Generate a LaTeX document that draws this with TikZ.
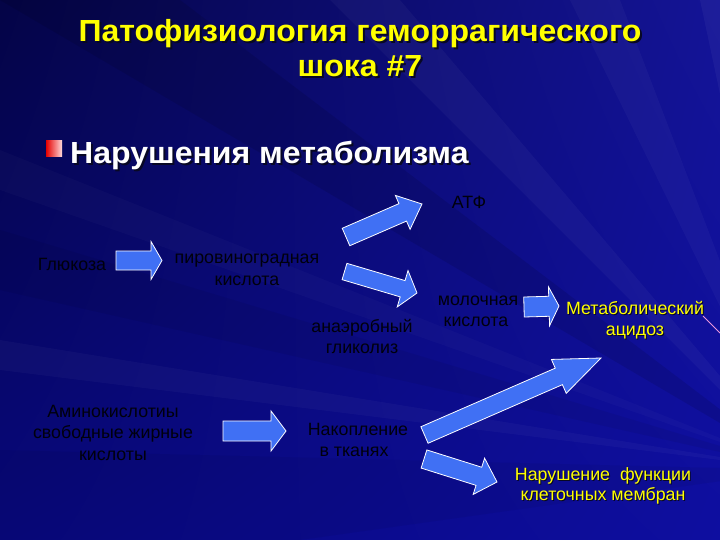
\documentclass[tikz,border=0pt]{standalone}
\usepackage{fontspec}
\setmainfont{Liberation Sans}
\newfontfamily\widefont[FakeStretch=1.05]{Liberation Sans}
\usetikzlibrary{calc,shadings}
\definecolor{bgUL}{RGB}{4,4,70}
\definecolor{bgUR}{RGB}{20,20,150}
\definecolor{bgLL}{RGB}{8,8,125}
\definecolor{bgLR}{RGB}{14,14,160}
\definecolor{arrowblue}{RGB}{64,112,244}
\definecolor{titleyellow}{RGB}{255,255,0}
\definecolor{labelink}{RGB}{0,0,12}
\definecolor{pinkline}{RGB}{235,150,220}
\definecolor{shadowc}{RGB}{8,8,36}
\newcommand\blockarrow[5]{%
  \coordinate (hb) at ($(#2)!#5!(#1)$);
  \draw[barrow] ($(#1)!#3!90:(#2)$) -- ($(hb)!#3!-90:(#1)$) -- ($(hb)!#4!-90:(#1)$)
    -- (#2) -- ($(hb)!#4!90:(#1)$) -- ($(hb)!#3!90:(#1)$) -- ($(#1)!#3!-90:(#2)$) -- cycle;}
\tikzset{
  barrow/.style={fill=arrowblue, draw=white, line width=0.8pt, line join=miter},
  titletext/.style={font=\widefont\bfseries\fontsize{30.5}{34}\selectfont, anchor=base, inner sep=0pt},
  subtext/.style={font=\widefont\bfseries\fontsize{30.5}{34}\selectfont, anchor=base west, inner sep=0pt},
  blacklabel/.style={font=\fontsize{17.8}{21}\selectfont, text=labelink, anchor=base, inner sep=0pt},
  yellowlabel/.style={font=\fontsize{17.8}{21}\selectfont, text=titleyellow, anchor=base, inner sep=0pt},
  shadowlabel/.style={font=\fontsize{17.8}{21}\selectfont, text=shadowc, anchor=base, inner sep=0pt},
}
\begin{document}
\begin{tikzpicture}[x=1pt,y=-1pt]
\useasboundingbox (0,0) rectangle (720,540);
\shade[upper left=bgUL, upper right=bgUR, lower left=bgLL, lower right=bgLR] (0,0) rectangle (720,540);
% faint background rays converging to the lower right
\coordinate (F) at (800,470);
\fill[white, opacity=0.035] (F) -- (330,0) -- (400,0) -- cycle;
\fill[white, opacity=0.03] (F) -- (570,0) -- (620,0) -- cycle;
\fill[white, opacity=0.04] (F) -- (700,0) -- (740,0) -- cycle;
\fill[white, opacity=0.025] (F) -- (0,150) -- (0,190) -- cycle;
\fill[white, opacity=0.03] (F) -- (0,340) -- (0,370) -- cycle;
\fill[black, opacity=0.10] (F) -- (0,0) -- (180,0) -- cycle;
\fill[black, opacity=0.06] (F) -- (0,230) -- (0,290) -- cycle;
\fill[black, opacity=0.05] (F) -- (0,450) -- (0,540) -- (300,540) -- cycle;
\coordinate (p1) at (703,316);
\coordinate (p2) at (720,333);
\draw[pinkline, line width=0.8pt] (p1) -- (p2);

% title
\node[titletext, text=shadowc] (t1s) at (362,44) {Патофизиология геморрагического};
\node[titletext, text=titleyellow] (t1) at (360,42) {Патофизиология геморрагического};
\node[titletext, text=shadowc] (t2s) at (362,78.5) {шока \#7};
\node[titletext, text=titleyellow] (t2) at (360,76.5) {шока \#7};

% subheading with bullet
\shade[left color=red!90!black, right color=red!15!white] (46,141) rectangle (62,157);
\node[subtext, text=shadowc] (subs) at (72,166) {Нарушения метаболизма};
\node[subtext, text=white] (sub) at (70,164) {Нарушения метаболизма};

% black labels
\node[blacklabel] (glu) at (72,270) {Глюкоза};
\node[blacklabel] (pyr1) at (247,263) {пировиноградная};
\node[blacklabel] (pyr2) at (247,285) {кислота};
\node[blacklabel] (atp) at (469,208) {АТФ};
\node[blacklabel] (lac1) at (478,305) {молочная};
\node[blacklabel] (lac2) at (476,326) {кислота};
\node[blacklabel] (ana1) at (362,332) {анаэробный};
\node[blacklabel] (ana2) at (362,353) {гликолиз};
\node[blacklabel] (ami1) at (113,417) {Аминокислотиы};
\node[blacklabel] (ami2) at (113,438) {свободные жирные};
\node[blacklabel] (ami3) at (113,460) {кислоты};
\node[blacklabel] (acc1) at (358,435) {Накопление};
\node[blacklabel] (acc2) at (354,456) {в тканях};

% yellow labels
\node[shadowlabel] (met1s) at (636,315) {Метаболический};
\node[yellowlabel] (met1) at (635,314) {Метаболический};
\node[shadowlabel] (met2s) at (636,336) {ацидоз};
\node[yellowlabel] (met2) at (635,335) {ацидоз};
\node[shadowlabel] (mem1s) at (604,481) {Нарушение\ \ функции};
\node[yellowlabel] (mem1) at (603,480) {Нарушение\ \ функции};
\node[shadowlabel] (mem2s) at (604,501) {клеточных мембран};
\node[yellowlabel] (mem2) at (603,500) {клеточных мембран};

% block arrows
\coordinate (a1s) at (116,260.5); \coordinate (a1e) at (162,260.5);
\coordinate (a2s) at (223,431);   \coordinate (a2e) at (286,431);
\coordinate (a3s) at (524,307);   \coordinate (a3e) at (559,306);
\coordinate (a4s) at (346,237);   \coordinate (a4e) at (422,204);
\coordinate (a5s) at (344.5,271.5); \coordinate (a5e) at (417,293);
\coordinate (a6s) at (424.5,435); \coordinate (a6e) at (601,358);
\coordinate (a7s) at (424,459);   \coordinate (a7e) at (497,482);
\blockarrow{a1s}{a1e}{9.5pt}{19pt}{11pt}
\blockarrow{a2s}{a2e}{10pt}{20pt}{15pt}
\blockarrow{a3s}{a3e}{10pt}{19.5pt}{10pt}
\blockarrow{a4s}{a4e}{9.5pt}{18.5pt}{21pt}
\blockarrow{a5s}{a5e}{8.5pt}{19pt}{15pt}
\blockarrow{a6s}{a6e}{9pt}{18.5pt}{46pt}
\blockarrow{a7s}{a7e}{9.5pt}{19pt}{19pt}
\end{tikzpicture}
\end{document}
